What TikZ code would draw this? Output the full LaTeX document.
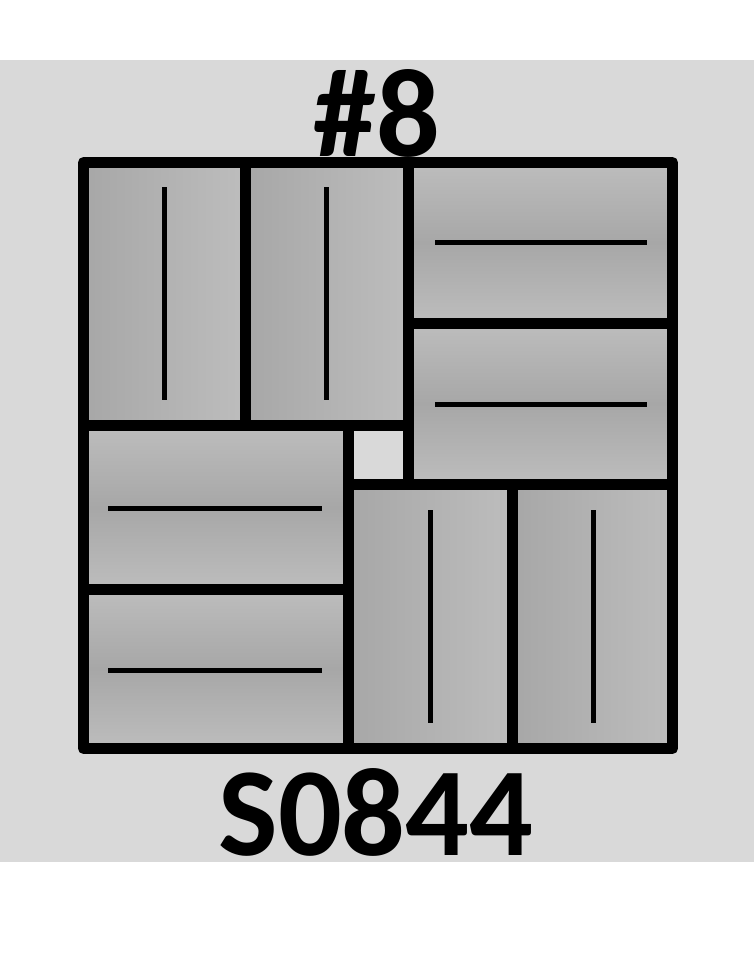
\documentclass[tikz,border=0pt]{standalone}
\usepackage{fontspec}
\setmainfont{Carlito}
\definecolor{bggray}{HTML}{D9D9D9}
\definecolor{tiledark}{HTML}{A7A7A7}
\definecolor{tilelight}{HTML}{BDBDBD}
\begin{document}
\begin{tikzpicture}[x=1pt,y=-1pt,
  vtile/.style={left color=tiledark,right color=tilelight,draw=black,line width=11pt,line join=round},
  htile/.style={top color=tilelight,bottom color=tilelight,middle color=tiledark,draw=black,line width=11pt,line join=round},
  grain/.style={draw=black,line width=5pt},
  label/.style={font=\bfseries\fontsize{126}{130}\selectfont,anchor=base,inner sep=0pt}]
\useasboundingbox (0,0) rectangle (754,962);
\fill[white] (0,0) rectangle (754,962);
\fill[bggray] (0,60) rectangle (754,862);
% tiles
\path[vtile] (83.5,162.5) rectangle (245.5,425.5);
\path[vtile] (245.5,162.5) rectangle (408,425.5);
\path[htile] (408,162.5) rectangle (672.5,323);
\path[htile] (408,323) rectangle (672.5,484.5);
\path[htile] (83.5,425.5) rectangle (348.5,589);
\path[htile] (83.5,589) rectangle (348.5,748.5);
\path[vtile] (348.5,484.5) rectangle (512.5,748.5);
\path[vtile] (512.5,484.5) rectangle (672.5,748.5);
% centre gap
\path[fill=bggray,draw=black,line width=11pt,line join=round] (348.5,425.5) rectangle (408,484.5);
% grain lines
\draw[grain] (164,187) -- (164,400);
\draw[grain] (326,187) -- (326,400);
\draw[grain] (435,242) -- (647,242);
\draw[grain] (435,404) -- (647,404);
\draw[grain] (108,508) -- (322,508);
\draw[grain] (108,670) -- (322,670);
\draw[grain] (430.5,510) -- (430.5,723);
\draw[grain] (593,510) -- (593,723);
% labels
\node[label] (num) at (377,156) {\#8};
\node[label] (code) at (376,855) {S0844};
\end{tikzpicture}
\end{document}
